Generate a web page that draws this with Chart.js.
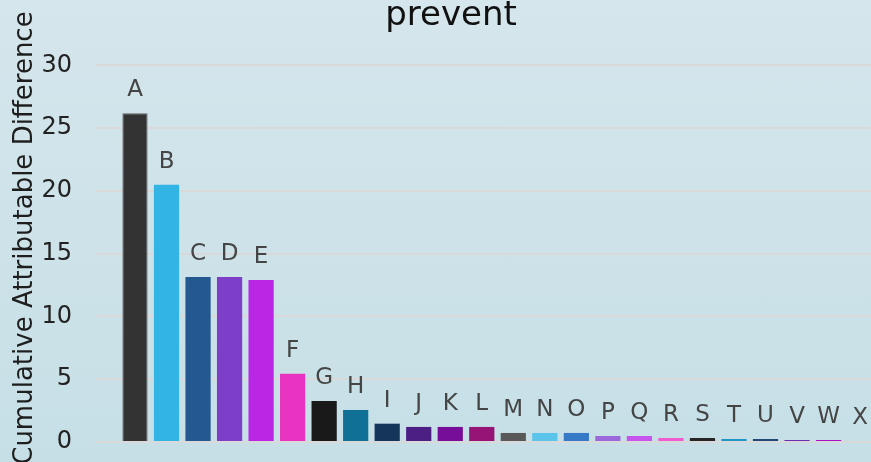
<!DOCTYPE html>
<html><head><meta charset="utf-8">
<script src="https://cdn.jsdelivr.net/npm/chart.js@4/dist/chart.umd.min.js"></script>
<style>
html,body{margin:0;padding:0;overflow:hidden;width:871px;height:462px;background:linear-gradient(to bottom,#d5e6ec 0%,#c6dfe6 100%);}
#wrap{position:absolute;left:0;top:0;width:902px;height:462px;}
</style></head><body>
<div id="wrap"><canvas id="c" width="902" height="462"></canvas></div>
<script>
const categories = ['A','B','C','D','E','F','G','H','I','J','K','L','M','N','O','P','Q','R','S','T','U','V','W','X'];
const values = [26.2, 20.5, 13.15, 13.15, 12.9, 5.44, 3.27, 2.55, 1.46, 1.2, 1.2, 1.2, 0.72, 0.72, 0.72, 0.48, 0.48, 0.32, 0.32, 0.24, 0.24, 0.16, 0.16, 0.08];
const yTicks = [0, 5, 10, 15, 20, 25, 30];
const chartTitle = 'prevent';
const yTitle = 'Cumulative Attributable Difference';
const barColors = ['#333333','#32b5e5','#245891','#7d3fc8','#b927e5','#e834c0','#191919','#117095','#16355a','#4b1f84','#760e99','#951475','#595959','#5bc4ea','#3579c7','#9a68da','#c655ef','#ef5ccf','#262626','#1b98c8','#1f4a78','#6a2eb2','#a510c8','#cb1aa3'];

const FONT = "'DejaVu Sans', sans-serif";

const barLabels = {
  id: 'barLabels',
  afterDatasetsDraw(chart) {
    const ctx = chart.ctx;
    const meta = chart.getDatasetMeta(0);
    ctx.save();
    ctx.font = "23px " + FONT;
    ctx.fillStyle = '#454545';
    ctx.textAlign = 'center';
    ctx.textBaseline = 'alphabetic';
    meta.data.forEach((bar, i) => {
      ctx.fillText(categories[i], bar.x, bar.y - 17);
    });
    ctx.restore();
  }
};

new Chart(document.getElementById('c'), {
  type: 'bar',
  data: {
    datasets: [{
      data: values.map((v, i) => ({x: i, y: v})),
      backgroundColor: barColors,
      borderColor: barColors.map((c, i) => i === 0 ? '#5e5e5e' : c),
      borderWidth: barColors.map((c, i) => i === 0 ? 1 : 0),
      barPercentage: 0.8,
      categoryPercentage: 1.0
    }]
  },
  options: {
    responsive: false,
    animation: false,
    layout: {padding: {left: 0, right: 0, top: 2, bottom: 20}},
    plugins: {
      legend: {display: false},
      tooltip: {enabled: false},
      title: {
        display: true,
        text: chartTitle,
        color: '#111111',
        font: {family: FONT, size: 34, weight: 'normal', lineHeight: 0.7},
        padding: {top: 2, bottom: 6.3}
      }
    },
    scales: {
      x: {
        type: 'linear',
        display: false,
        offset: false,
        min: -1.237,
        max: 24.33,
        grid: {display: false, offset: false}
      },
      y: {
        min: 0,
        max: 32.5,
        afterBuildTicks: axis => { axis.ticks = yTicks.map(v => ({value: v})); },
        afterFit: axis => { axis.width = 96; },
        border: {display: false},
        grid: {color: '#d9d9d9', lineWidth: 2, drawTicks: true, tickLength: 24, tickColor: 'rgba(0,0,0,0)'},
        ticks: {color: '#222222', padding: 0, font: {family: FONT, size: 24}},
        title: {
          display: true,
          text: yTitle,
          color: '#1e1e1e',
          font: {family: FONT, size: 26, lineHeight: 1.2},
          padding: {top: 9.4, bottom: 0}
        }
      }
    }
  },
  plugins: [barLabels]
});
</script>
</body></html>
